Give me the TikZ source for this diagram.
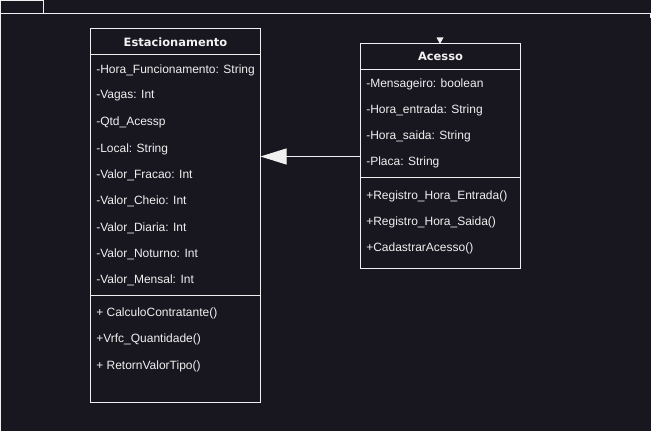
\documentclass[tikz,border=0pt]{standalone}
\usepackage{fontspec}
\setmainfont{Liberation Sans}
\newfontfamily\titlefont{DejaVu Sans}
\usetikzlibrary{arrows.meta}
\definecolor{bg}{RGB}{24,22,31}
\definecolor{fg}{RGB}{240,240,240}
\tikzset{
  px/.style={x=0.75pt,y=-0.75pt},
  frameline/.style={draw=fg,line width=0.75pt},
  classbox/.style={draw=fg,line width=0.75pt},
  attr/.style={anchor=west,inner sep=0pt,yshift=-1.5pt,text=fg,font=\fontsize{9}{10}\selectfont},
  title/.style={anchor=center,inner sep=0pt,text=fg,font=\titlefont\bfseries\fontsize{8.6}{10}\selectfont},
  inherit/.style={draw=fg,line width=0.75pt,-{Triangle[open,fill=fg,length=19.5pt,width=12pt]}}
}
\begin{document}
\begin{tikzpicture}[px]
\fill[bg] (0,0) rectangle (651,431);
\useasboundingbox (0,0) rectangle (651,431);
% frame
\draw[frameline] (0.5,0.5) rectangle (43.5,14);
\draw[frameline] (0.5,14) -- (651,14);
\draw[frameline] (0.5,0.5) -- (0.5,431);
\draw[frameline] (650.5,14) -- (650.5,18);
% Estacionamento
\draw[classbox] (90.5,28.5) rectangle (260.5,402.5);
\draw[classbox] (90.5,54.5) -- (260.5,54.5);
\draw[classbox] (90.5,295.5) -- (260.5,295.5);
\coordinate (estE) at (260.5,156.5);
\node[title] (estT) at (175.5,42) {Estacionamento};
\node[attr] (e1) at (96,68) {-Hora\_Funcionamento: String};
\node[attr] (e2) at (96,94) {-Vagas: Int};
\node[attr] (e3) at (96,120.5) {-Qtd\_Acessp};
\node[attr] (e4) at (96,147) {-Local: String};
\node[attr] (e5) at (96,173) {-Valor\_Fracao: Int};
\node[attr] (e6) at (96,199.5) {-Valor\_Cheio: Int};
\node[attr] (e7) at (96,226) {-Valor\_Diaria: Int};
\node[attr] (e8) at (96,252) {-Valor\_Noturno: Int};
\node[attr] (e9) at (96,278) {-Valor\_Mensal: Int};
\node[attr] (m1) at (96,311.5) {+ CalculoContratante()};
\node[attr] (m2) at (96,337.5) {+Vrfc\_Quantidade()};
\node[attr] (m3) at (96,364) {+ RetornValorTipo()};
% Acesso
\draw[classbox] (360.5,43.5) rectangle (520.5,268.5);
\draw[classbox] (360.5,69.5) -- (520.5,69.5);
\draw[classbox] (360.5,177.5) -- (520.5,177.5);
\coordinate (acW) at (360.5,156.5);
\fill[fg] (436.5,37.5) -- (443.5,37.5) -- (440,44) -- cycle;
\node[title] (acT) at (440.5,56.5) {Acesso};
\node[attr] (a1) at (366,82.5) {-Mensageiro: boolean};
\node[attr] (a2) at (366,108.5) {-Hora\_entrada: String};
\node[attr] (a3) at (366,134.5) {-Hora\_saida: String};
\node[attr] (a4) at (366,160.5) {-Placa: String};
\node[attr] (b1) at (366,194.5) {+Registro\_Hora\_Entrada()};
\node[attr] (b2) at (366,220.5) {+Registro\_Hora\_Saida()};
\node[attr] (b3) at (366,246.5) {+CadastrarAcesso()};
% connector
\draw[inherit] (acW) -- (estE);
\end{tikzpicture}
\end{document}
